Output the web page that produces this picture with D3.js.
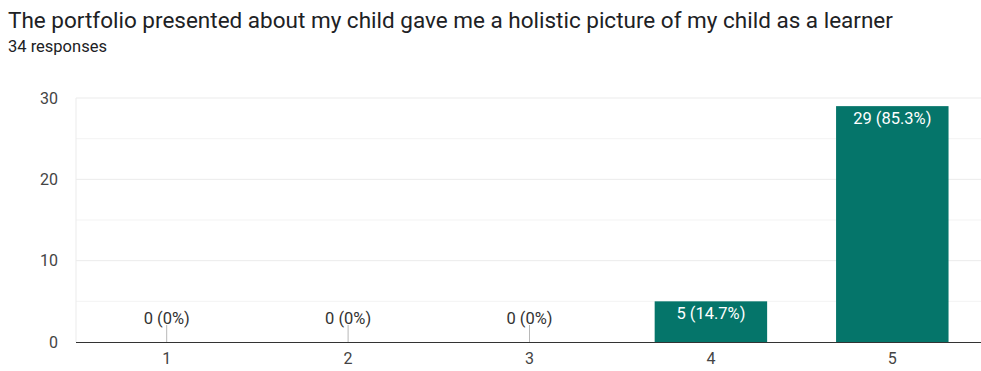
<!DOCTYPE html>
<html>
<head>
<meta charset="utf-8">
<script src="https://cdn.jsdelivr.net/npm/d3@7"></script>
<style>
  body { margin: 0; background: #fff; font-family: Roboto, "Noto Sans", sans-serif; }
</style>
</head>
<body>
<svg class="chart"></svg>
<script>
var titleText = "The portfolio presented about my child gave me a holistic picture of my child as a learner";
var subtitleText = "34 responses";
var categories = ["1", "2", "3", "4", "5"];
var counts = [0, 0, 0, 5, 29];
var percents = ["0%", "0%", "0%", "14.7%", "85.3%"];
var yTicks = [0, 10, 20, 30];
var gridTicks = [0, 5, 10, 15, 20, 25, 30];

var width = 981, height = 371;
var plotLeft = 76, plotRight = 983, plotTop = 98, plotBottom = 342;

var svg = d3.select(".chart").attr("width", width).attr("height", height);

svg.append("text")
   .attr("x", 8).attr("y", 28)
   .style("font-size", "22.5px").style("fill", "#202124")
   .text(titleText);

svg.append("text")
   .attr("x", 8).attr("y", 52)
   .style("font-size", "16.5px").style("fill", "#202124")
   .text(subtitleText);

var x = d3.scaleBand().domain(categories).range([plotLeft, plotRight]).paddingInner(0.38).paddingOuter(0.19);
var y = d3.scaleLinear().domain([0, 30]).range([plotBottom, plotTop]);

// gridlines
svg.append("g").selectAll("line")
   .data(gridTicks.filter(function(d) { return d > 0; }))
   .enter().append("line")
   .attr("x1", plotLeft).attr("x2", plotRight)
   .attr("y1", function(d) { return y(d); }).attr("y2", function(d) { return y(d); })
   .style("stroke", function(d) { return d % 10 === 0 ? "#ebebeb" : "#f3f3f3"; })
   .style("stroke-width", 1);

svg.append("line")
   .attr("x1", plotLeft).attr("x2", plotLeft).attr("y1", plotTop).attr("y2", plotBottom)
   .style("stroke", "#ebebeb");

// y tick labels
var yAxis = svg.append("g")
   .attr("transform", "translate(" + (plotLeft - 18) + ",0)")
   .call(d3.axisLeft(y).tickValues(yTicks).tickSize(0).tickPadding(0));
yAxis.select(".domain").remove();
yAxis.selectAll("text").style("font-size", "16px").style("fill", "#444").style("font-family", "Roboto");

// bars
svg.append("g").selectAll("rect")
   .data(counts)
   .enter().append("rect")
   .attr("x", function(d, i) { return x(categories[i]); })
   .attr("width", x.bandwidth())
   .attr("y", function(d) { return y(d); })
   .attr("height", function(d) { return plotBottom - y(d); })
   .style("fill", "#05756a");

// value labels
counts.forEach(function(d, i) {
  var cx = x(categories[i]) + x.bandwidth() / 2;
  if (d === 0) {
    svg.append("line")
       .attr("x1", cx).attr("x2", cx).attr("y1", plotBottom - 17).attr("y2", plotBottom)
       .style("stroke", "#b8b8b8");
    svg.append("text")
       .attr("x", cx).attr("y", plotBottom - 18)
       .style("text-anchor", "middle").style("font-size", "16.5px").style("fill", "#333")
       .text(d + " (" + percents[i] + ")");
  } else {
    svg.append("text")
       .attr("x", cx).attr("y", y(d) + 18)
       .style("text-anchor", "middle").style("font-size", "16.5px").style("fill", "#fff")
       .text(d + " (" + percents[i] + ")");
  }
});

// x axis
var xAxis = svg.append("g")
   .attr("transform", "translate(0," + plotBottom + ")")
   .call(d3.axisBottom(x).tickSize(0).tickPadding(11));
xAxis.select(".domain").style("stroke", "#333").attr("d", "M" + plotLeft + ",0.5H" + plotRight);
xAxis.selectAll("text").style("font-size", "16px").style("fill", "#444").style("font-family", "Roboto");
</script>
</body>
</html>
